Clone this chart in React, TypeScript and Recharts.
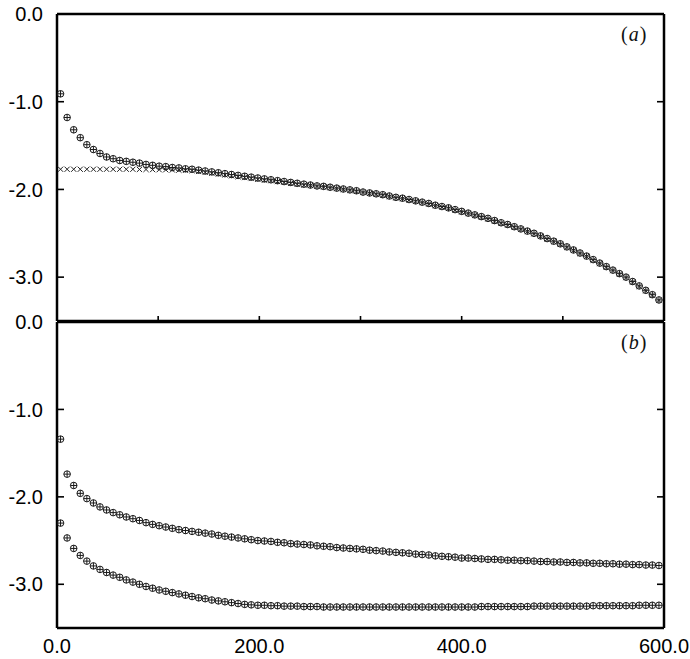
import React from 'react';
import { ScatterChart, Scatter, XAxis, YAxis } from 'recharts';

// sample positions (same grid for every series)
const xs = [
  3.5, 10, 16.5, 23, 29.5, 36, 42.5, 49, 55.5, 62,
  68.5, 75, 81.5, 88, 94.5, 101, 107.5, 114, 120.5, 127,
  133.5, 140, 146.5, 153, 159.5, 166, 172.5, 179, 185.5, 192,
  198.5, 205, 211.5, 218, 224.5, 231, 237.5, 244, 250.5, 257,
  263.5, 270, 276.5, 283, 289.5, 296, 302.5, 309, 315.5, 322,
  328.5, 335, 341.5, 348, 354.5, 361, 367.5, 374, 380.5, 387,
  393.5, 400, 406.5, 413, 419.5, 426, 432.5, 439, 445.5, 452,
  458.5, 465, 471.5, 478, 484.5, 491, 497.5, 504, 510.5, 517,
  523.5, 530, 536.5, 543, 549.5, 556, 562.5, 569, 575.5, 582,
  588.5, 595,
];

// panel (a): circles
const aCircle = [
  -0.91, -1.18, -1.32, -1.41, -1.49, -1.545, -1.59, -1.63, -1.65, -1.67,
  -1.68, -1.69, -1.70, -1.715, -1.725, -1.735, -1.74, -1.75, -1.755, -1.765,
  -1.77, -1.78, -1.79, -1.80, -1.81, -1.82, -1.83, -1.84, -1.85, -1.86,
  -1.87, -1.88, -1.89, -1.90, -1.91, -1.92, -1.93, -1.94, -1.95, -1.96,
  -1.965, -1.975, -1.985, -1.995, -2.005, -2.015, -2.03, -2.04, -2.05, -2.06,
  -2.075, -2.09, -2.10, -2.115, -2.13, -2.145, -2.16, -2.18, -2.195, -2.21,
  -2.23, -2.25, -2.27, -2.29, -2.31, -2.33, -2.355, -2.38, -2.40, -2.425,
  -2.45, -2.475, -2.50, -2.53, -2.56, -2.59, -2.62, -2.655, -2.69, -2.725,
  -2.76, -2.80, -2.84, -2.88, -2.92, -2.96, -3.00, -3.05, -3.10, -3.15,
  -3.20, -3.26,
];

// panel (a): crosses
const aCross = [
  -1.77, -1.77, -1.77, -1.77, -1.77, -1.77, -1.77, -1.77, -1.77, -1.77,
  -1.77, -1.77, -1.772, -1.772, -1.774, -1.775, -1.776, -1.778, -1.78, -1.782,
  -1.785, -1.795, -1.805, -1.815, -1.825, -1.835, -1.845, -1.855, -1.865, -1.875,
  -1.885, -1.895, -1.90, -1.91, -1.92, -1.93, -1.94, -1.95, -1.955, -1.965,
  -1.97, -1.98, -1.99, -2.00, -2.01, -2.02, -2.035, -2.045, -2.055, -2.065,
  -2.08, -2.095, -2.105, -2.12, -2.135, -2.15, -2.165, -2.185, -2.20, -2.215,
  -2.235, -2.255, -2.275, -2.295, -2.315, -2.335, -2.36, -2.385, -2.405, -2.43,
  -2.455, -2.48, -2.505, -2.535, -2.565, -2.595, -2.625, -2.66, -2.695, -2.73,
  -2.765, -2.805, -2.845, -2.885, -2.925, -2.965, -3.005, -3.055, -3.105, -3.155,
  -3.205, -3.265,
];

// panel (b): upper series
const bUpper = [
  -1.34, -1.74, -1.87, -1.96, -2.02, -2.07, -2.115, -2.15, -2.18, -2.205,
  -2.23, -2.25, -2.27, -2.295, -2.315, -2.33, -2.345, -2.36, -2.375, -2.385,
  -2.395, -2.405, -2.415, -2.425, -2.44, -2.45, -2.46, -2.47, -2.48, -2.49,
  -2.50, -2.505, -2.51, -2.52, -2.525, -2.535, -2.54, -2.545, -2.55, -2.56,
  -2.565, -2.57, -2.58, -2.585, -2.59, -2.595, -2.60, -2.61, -2.615, -2.62,
  -2.63, -2.635, -2.64, -2.645, -2.655, -2.66, -2.665, -2.675, -2.68, -2.685,
  -2.69, -2.70, -2.70, -2.705, -2.71, -2.715, -2.715, -2.72, -2.725, -2.725,
  -2.73, -2.73, -2.735, -2.74, -2.74, -2.745, -2.745, -2.75, -2.75, -2.755,
  -2.755, -2.76, -2.76, -2.765, -2.765, -2.77, -2.77, -2.775, -2.775, -2.78,
  -2.78, -2.785,
];

// panel (b): lower series
const bLower = [
  -2.30, -2.47, -2.59, -2.67, -2.735, -2.79, -2.83, -2.865, -2.895, -2.92,
  -2.95, -2.975, -3.00, -3.025, -3.045, -3.065, -3.08, -3.095, -3.11, -3.125,
  -3.14, -3.155, -3.165, -3.18, -3.19, -3.20, -3.21, -3.22, -3.23, -3.235,
  -3.24, -3.24, -3.245, -3.245, -3.25, -3.25, -3.25, -3.255, -3.255, -3.255,
  -3.26, -3.26, -3.26, -3.26, -3.26, -3.26, -3.26, -3.26, -3.26, -3.26,
  -3.26, -3.26, -3.26, -3.26, -3.26, -3.26, -3.26, -3.26, -3.26, -3.26,
  -3.26, -3.26, -3.26, -3.26, -3.255, -3.255, -3.255, -3.255, -3.255, -3.255,
  -3.255, -3.255, -3.25, -3.25, -3.25, -3.25, -3.25, -3.25, -3.25, -3.25,
  -3.25, -3.245, -3.245, -3.245, -3.245, -3.245, -3.245, -3.245, -3.24, -3.24,
  -3.24, -3.24,
];

const xLabelTicks = [0, 200, 400, 600];
const xMinorTicks = [100, 200, 300, 400, 500];
const yLabelTicks = [0, -1, -2, -3];
const yMinorTicks = [-1, -2, -3];
const xDomain = [0, 600];
const yDomain = [-3.5, 0];

const toPoints = (ys: number[]) => xs.map((x, i) => ({ x, y: ys[i] }));

const FONT = '"Liberation Sans", Arial, sans-serif';
const frame = { stroke: '#000', strokeWidth: 2.5 };
const tickStroke = { stroke: '#000', strokeWidth: 1.6 };
const labelStyle = { fontSize: 20, fill: '#000', fontFamily: FONT };
const noLabel = () => '';
const fmt = (v: number) => v.toFixed(1);

const CirclePlus = (props: any) => {
  const { cx, cy } = props;
  if (cx == null || cy == null) return null;
  const r = 3.3;
  return (
    <g stroke="#1a1a1a" strokeWidth={1} fill="none">
      <circle cx={cx} cy={cy} r={r} />
      <line x1={cx - r} y1={cy} x2={cx + r} y2={cy} />
      <line x1={cx} y1={cy - r} x2={cx} y2={cy + r} />
    </g>
  );
};

const Cross = (props: any) => {
  const { cx, cy } = props;
  if (cx == null || cy == null) return null;
  const s = 2.6;
  return (
    <g stroke="#222" strokeWidth={1}>
      <line x1={cx - s} y1={cy - s} x2={cx + s} y2={cy + s} />
      <line x1={cx - s} y1={cy + s} x2={cx + s} y2={cy - s} />
    </g>
  );
};

// the frame ticks that point into the plot
const innerAxes = (withBottom: boolean) => [
  <XAxis key="xt" xAxisId="xt" orientation="top" mirror type="number" domain={xDomain} allowDataOverflow
    ticks={xMinorTicks} tickFormatter={noLabel} tickSize={5} tickLine={tickStroke} axisLine={frame} />,
  withBottom ? (
    <XAxis key="xb" xAxisId="xb" orientation="bottom" mirror type="number" domain={xDomain} allowDataOverflow
      ticks={xMinorTicks} tickFormatter={noLabel} tickSize={5} tickLine={tickStroke} axisLine={false} />
  ) : null,
  <YAxis key="yl" yAxisId="yl" orientation="left" mirror type="number" domain={yDomain} allowDataOverflow
    ticks={yMinorTicks} tickFormatter={noLabel} tickSize={7} tickLine={tickStroke} axisLine={false} />,
  <YAxis key="yr" yAxisId="yr" orientation="right" mirror type="number" domain={yDomain} allowDataOverflow
    ticks={yMinorTicks} tickFormatter={noLabel} tickSize={7} tickLine={tickStroke} axisLine={frame} />,
];

const PanelLabel = ({ top, letter }: { top: number; letter: string }) => (
  <div style={{ position: 'absolute', left: 621, top, fontFamily: '"Liberation Serif", "Times New Roman", serif',
    fontSize: 20, lineHeight: '20px', color: '#111', letterSpacing: 1 }}>
    (<i>{letter}</i>)
  </div>
);

export default function App() {
  return (
    <div style={{ position: 'absolute', left: 0, top: 0, width: 690, height: 659, background: '#fff' }}>
      {/* panel (a) */}
      <div style={{ position: 'absolute', left: 0, top: 0 }}>
        <ScatterChart width={690} height={322} margin={{ top: 14, right: 26, bottom: 1, left: 0 }}>
          <XAxis xAxisId="x" dataKey="x" type="number" orientation="bottom" mirror domain={xDomain} allowDataOverflow
            ticks={xMinorTicks} tickFormatter={noLabel} tickSize={5} tickLine={tickStroke} axisLine={frame} />
          <YAxis yAxisId="y" dataKey="y" type="number" domain={yDomain} allowDataOverflow width={57}
            ticks={yLabelTicks} tickFormatter={fmt} tick={labelStyle} tickLine={false} tickSize={6} tickMargin={8}
            axisLine={frame} />
          {innerAxes(false)}
          <Scatter data={toPoints(aCircle)} xAxisId="x" yAxisId="y" shape={CirclePlus} isAnimationActive={false} />
          <Scatter data={toPoints(aCross)} xAxisId="x" yAxisId="y" shape={Cross} isAnimationActive={false} />
        </ScatterChart>
      </div>
      <PanelLabel top={24} letter="a" />

      {/* panel (b) */}
      <div style={{ position: 'absolute', left: 0, top: 300 }}>
        <ScatterChart width={690} height={359} margin={{ top: 22, right: 26, bottom: 0, left: 0 }}>
          <XAxis xAxisId="x" dataKey="x" type="number" orientation="bottom" domain={xDomain} allowDataOverflow
            height={31} ticks={xLabelTicks} tickFormatter={fmt} tick={labelStyle} tickLine={false}
            tickSize={6} tickMargin={5} axisLine={frame} />
          <YAxis yAxisId="y" dataKey="y" type="number" domain={yDomain} allowDataOverflow width={57}
            ticks={yLabelTicks} tickFormatter={fmt} tick={labelStyle} tickLine={false} tickSize={6} tickMargin={8}
            axisLine={frame} />
          {innerAxes(true)}
          <Scatter data={toPoints(bUpper)} xAxisId="x" yAxisId="y" shape={CirclePlus} isAnimationActive={false} />
          <Scatter data={toPoints(bLower)} xAxisId="x" yAxisId="y" shape={CirclePlus} isAnimationActive={false} />
        </ScatterChart>
      </div>
      <PanelLabel top={332} letter="b" />
    </div>
  );
}
